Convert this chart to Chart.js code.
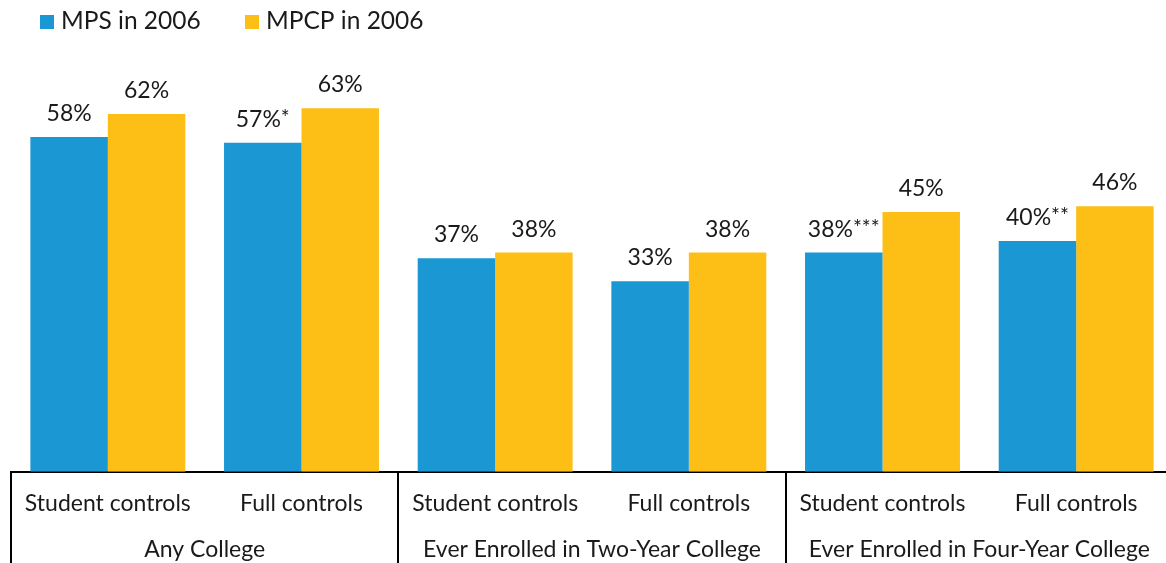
<!DOCTYPE html>
<html>
<head>
<meta charset="utf-8">
<script src="https://cdn.jsdelivr.net/npm/chart.js@4"></script>
<style>
  html, body { margin: 0; padding: 0; background: #ffffff; overflow: hidden; width: 1166px; height: 563px; }
  #wrap { width: 1173px; height: 563px; position: relative; }
</style>
</head>
<body>
<div id="wrap"><canvas id="c" width="1173" height="563"></canvas></div>
<script>
const categories = ['Student controls', 'Full controls', 'Student controls', 'Full controls', 'Student controls', 'Full controls'];
const groupLabels = ['Any College', 'Ever Enrolled in Two-Year College', 'Ever Enrolled in Four-Year College'];
const seriesNames = ['MPS in 2006', 'MPCP in 2006'];
const mpsValues = [58, 57, 37, 33, 38, 40];
const mpcpValues = [62, 63, 38, 38, 45, 46];
const mpsSignificance = ['', '*', '', '', '***', '**'];
const mpcpSignificance = ['', '', '', '', '', ''];

const BLUE = '#1b97d3';
const YELLOW = '#fdbf16';
const TEXT = '#1a1a1a';
const FONT = 'Lato, "Open Sans", sans-serif';

const valueLabelPlugin = {
  id: 'valueLabels',
  afterDatasetsDraw(chart) {
    const ctx = chart.ctx;
    const sigs = [mpsSignificance, mpcpSignificance];
    chart.data.datasets.forEach((ds, di) => {
      const meta = chart.getDatasetMeta(di);
      meta.data.forEach((el, i) => {
        const main = ds.data[i] + '%';
        const sig = sigs[di][i] || '';
        ctx.save();
        ctx.font = '23px ' + FONT;
        const wMain = ctx.measureText(main).width;
        ctx.font = '21px ' + FONT;
        const wSig = sig ? ctx.measureText(sig).width : 0;
        const x0 = el.x - (wMain + wSig) / 2;
        const base = el.y - 16;
        ctx.fillStyle = TEXT;
        ctx.textAlign = 'left';
        ctx.textBaseline = 'alphabetic';
        ctx.font = '23px ' + FONT;
        ctx.fillText(main, x0, base);
        if (sig) {
          ctx.font = '21px ' + FONT;
          ctx.fillText(sig, x0 + wMain, base - 2);
        }
        ctx.restore();
      });
    });
  }
};

const legendPlugin = {
  id: 'customLegend',
  afterDraw(chart) {
    const ctx = chart.ctx;
    const positions = [40, 245];
    ctx.save();
    chart.data.datasets.forEach((ds, i) => {
      const x = positions[i];
      ctx.fillStyle = ds.backgroundColor;
      ctx.fillRect(x, 15, 14, 14);
      ctx.fillStyle = TEXT;
      ctx.font = '24.5px ' + FONT;
      ctx.textAlign = 'left';
      ctx.textBaseline = 'alphabetic';
      ctx.fillText(ds.label, x + 21, 29);
    });
    ctx.restore();
  }
};

// separator lines between the three outcome groups, placed from the x scale
const groupSeparatorPlugin = {
  id: 'groupSeparators',
  afterDraw(chart) {
    const xs = chart.scales.x;
    const ctx = chart.ctx;
    const n = chart.data.labels.length;
    const half = (xs.getPixelForValue(1) - xs.getPixelForValue(0)) / 2;
    ctx.save();
    ctx.strokeStyle = '#000000';
    ctx.lineWidth = 2;
    for (let i = 0; i <= n; i += 2) {
      const px = Math.round((i < n ? xs.getPixelForValue(i) - half : xs.getPixelForValue(n - 1) + half));
      ctx.beginPath();
      ctx.moveTo(px, chart.chartArea.bottom);
      ctx.lineTo(px, chart.height);
      ctx.stroke();
    }
    ctx.restore();
  }
};

new Chart(document.getElementById('c'), {
  type: 'bar',
  data: {
    labels: categories,
    datasets: [
      { label: seriesNames[0], data: mpsValues, backgroundColor: BLUE, borderWidth: 0 },
      { label: seriesNames[1], data: mpcpValues, backgroundColor: YELLOW, borderWidth: 0 }
    ]
  },
  options: {
    responsive: false,
    animation: false,
    layout: { padding: { left: 11, right: 0, top: 39, bottom: 0 } },
    datasets: { bar: { categoryPercentage: 0.8, barPercentage: 1.0 } },
    plugins: {
      legend: { display: false },
      tooltip: { enabled: false }
    },
    scales: {
      y: {
        display: false,
        min: 0,
        max: 75
      },
      x: {
        position: 'bottom',
        offset: true,
        grid: { display: false, drawTicks: false },
        border: { display: true, color: '#000000', width: 2 },
        ticks: {
          autoSkip: false,
          maxRotation: 0,
          padding: 18,
          color: TEXT,
          font: { family: FONT, size: 23 }
        }
      },
      x2: {
        type: 'category',
        labels: groupLabels,
        position: 'bottom',
        offset: true,
        grid: { display: false, drawTicks: false },
        border: { display: false },
        ticks: {
          autoSkip: false,
          maxRotation: 0,
          padding: 0,
          color: TEXT,
          font: { family: FONT, size: 23 }
        }
      }
    }
  },
  plugins: [valueLabelPlugin, legendPlugin, groupSeparatorPlugin]
});
</script>
</body>
</html>
